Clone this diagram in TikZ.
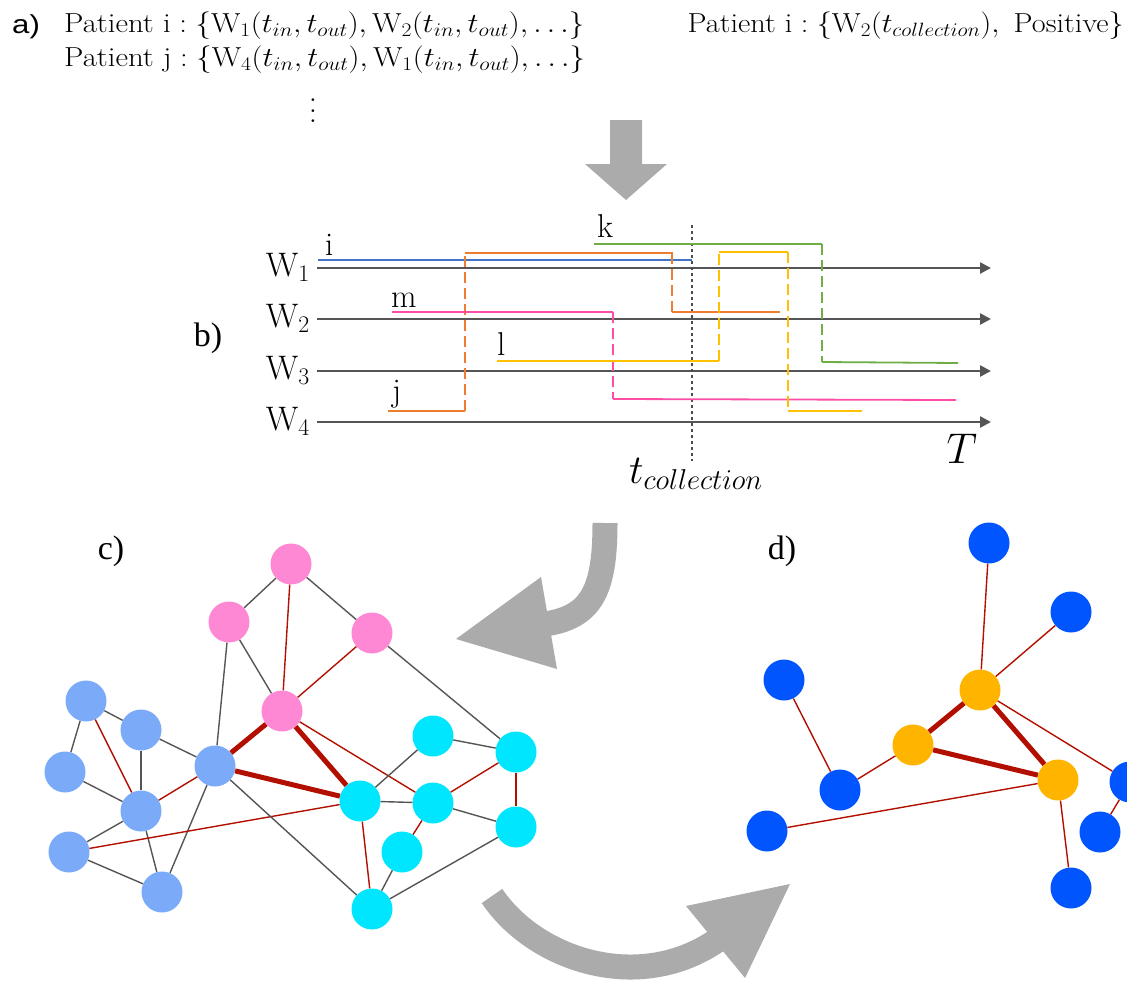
\RequirePackage{fix-cm}
\documentclass[tikz,border=0pt]{standalone}
\usepackage{graphicx}
\usepackage{fontspec}
\usetikzlibrary{arrows.meta}
\newfontfamily\labserif{Liberation Serif}
\newfontfamily\labsans{Liberation Sans}
\definecolor{pblue}{HTML}{4472C4}
\definecolor{porange}{HTML}{ED7D31}
\definecolor{ppink}{HTML}{FF4DA6}
\definecolor{pyellow}{HTML}{FFC000}
\definecolor{pgreen}{HTML}{70AD47}
\definecolor{axisgray}{HTML}{555555}
\definecolor{arrowgray}{HTML}{ABABAB}
\definecolor{npink}{HTML}{FF88D4}
\definecolor{nlblue}{HTML}{7BABF8}
\definecolor{ncyan}{HTML}{00E6FF}
\definecolor{nblue}{HTML}{0055FF}
\definecolor{norange}{HTML}{FFB400}
\definecolor{edgered}{HTML}{B30F00}
\definecolor{edgegray}{HTML}{555555}
\newcommand{\widetext}[1]{\scalebox{1.12}[1]{#1}}
\begin{document}
\begin{tikzpicture}[x=1pt,y=-1pt,
  toptext/.style={inner sep=0pt,font=\fontsize{27.5}{33}\selectfont},
  panel/.style={inner sep=0pt,font=\labserif\fontsize{34}{40}\selectfont},
  wlab/.style={inner sep=0pt,anchor=base east,font=\fontsize{34}{40}\selectfont},
  plab/.style={inner sep=0pt,anchor=base west,font=\fontsize{33}{38}\selectfont},
  axisline/.style={draw=axisgray,line width=2.5pt,-{Triangle[length=11pt,width=11pt]}},
  pline/.style={line width=1.8pt},
  pdash/.style={line width=1.8pt,dash pattern=on 11pt off 5pt},
  cnode/.style={circle,inner sep=0pt,minimum size=41pt,draw=none},
  gedge/.style={draw=edgegray,line width=1.4pt},
  redge/.style={draw=edgered,line width=1.4pt},
  tedge/.style={draw=edgered,line width=5pt},
  bigshaft/.style={draw=arrowgray,line width=25pt}
]
\useasboundingbox (0,0) rectangle (1127,985);
\clip (0,0) rectangle (1127,985);

% ---------- a) ----------
\node[inner sep=0pt,anchor=base west,font=\labsans\fontsize{26}{30}\selectfont] (la) at (12,33) {\scalebox{1.2}[1]{a)}};
\node[toptext,anchor=base west] (pati) at (64,32) {\widetext{Patient i${}:{}\{\mathrm{W}_1(t_{in},t_{out}),\mathrm{W}_2(t_{in},t_{out}),\ldots\}$}};
\node[toptext,anchor=base west] (patj) at (64,66) {\widetext{Patient j${}:{}\{\mathrm{W}_4(t_{in},t_{out}),\mathrm{W}_1(t_{in},t_{out}),\ldots\}$}};
\node[inner sep=0pt,anchor=center] (vd) at (313,103) {\scalebox{2.6}{\normalsize$\vdots$}};
\node[toptext,anchor=base east] (pos) at (1124,32) {\scalebox{1.1}[1]{Patient i${}:{}\{\mathrm{W}_2(t_{collection}),\ \mbox{Positive}\}$}};

% ---------- down arrow ----------
\fill[arrowgray] (610,120) -- (642,120) -- (642,164) -- (667,164) -- (626,200) -- (585,164) -- (610,164) -- cycle;

% ---------- b) ----------
\node[panel] (lb) at (208,338) {b)};
\coordinate (a1s) at (317,268); \coordinate (a1e) at (991,268);
\coordinate (a2s) at (317,319); \coordinate (a2e) at (991,319);
\coordinate (a3s) at (317,371); \coordinate (a3e) at (991,371);
\coordinate (a4s) at (317,422); \coordinate (a4e) at (991,422);
\draw[axisline] (a1s) -- (a1e);
\draw[axisline] (a2s) -- (a2e);
\draw[axisline] (a3s) -- (a3e);
\draw[axisline] (a4s) -- (a4e);
\node[wlab] (w1) at (310,276) {$\mathrm{W}_1$};
\node[wlab] (w2) at (310,327) {$\mathrm{W}_2$};
\node[wlab] (w3) at (310,379) {$\mathrm{W}_3$};
\node[wlab] (w4) at (310,430) {$\mathrm{W}_4$};

% collection time
\coordinate (tc1) at (692,225); \coordinate (tc2) at (692,461);
\draw[draw=axisgray!90!black,line width=1.6pt,dash pattern=on 3pt off 3pt] (tc1) -- (tc2);
\node[inner sep=0pt,font=\fontsize{41}{46}\selectfont] (tcol) at (696,474) {$t_{collection}$};
\node[inner sep=0pt,font=\fontsize{43}{48}\selectfont] (tT) at (962,449) {$T$};

% patient i
\draw[pline,pblue] (318,260) -- (692,260);
\node[plab] (li) at (325,255) {i};
% patient j
\draw[pline,porange] (388,411) -- (465,411);
\draw[pdash,porange] (465,411) -- (465,253);
\draw[pline,porange] (465,253) -- (673,253);
\draw[pdash,porange] (672,253) -- (672,312);
\draw[pline,porange] (672,312) -- (780,312);
\node[plab] (lj) at (392,401) {j};
% patient m
\draw[pline,ppink] (392,312) -- (613,312);
\draw[pdash,ppink] (613,312) -- (613,399);
\draw[pline,ppink] (613,399) -- (956,400);
\node[plab] (lm) at (391,307) {m};
% patient l
\draw[pline,pyellow] (497,361) -- (719,361);
\draw[pdash,pyellow] (719,361) -- (719,252);
\draw[pline,pyellow] (719,252) -- (788,252);
\draw[pdash,pyellow] (788,252) -- (788,411);
\draw[pline,pyellow] (788,411) -- (862,411);
\node[plab] (ll) at (497,355) {l};
% patient k
\draw[pline,pgreen] (594,244) -- (822,244);
\draw[pdash,pgreen] (822,244) -- (822,362);
\draw[pline,pgreen] (822,362) -- (958,363);
\node[plab] (lk) at (597,237) {k};

% ---------- curved arrows ----------
\draw[bigshaft] (605,523) .. controls (605,590) and (592,617) .. (545,624);
\fill[arrowgray] (456,639) -- (541,577) -- (557,669) -- cycle;
\draw[bigshaft] (492,896) .. controls (535,960) and (640,995) .. (719,939);
\fill[arrowgray] (790,884) -- (686,906) -- (745,978) -- cycle;

% ---------- c) ----------
\node[panel] (lc) at (111,551) {c)};
\node[cnode,fill=npink] (P1) at (291,564) {};
\node[cnode,fill=npink] (P2) at (229,622) {};
\node[cnode,fill=npink] (P3) at (372,633) {};
\node[cnode,fill=npink] (P4) at (282,711) {};
\node[cnode,fill=nlblue] (B1) at (86,701) {};
\node[cnode,fill=nlblue] (B2) at (141,730) {};
\node[cnode,fill=nlblue] (B3) at (65,772) {};
\node[cnode,fill=nlblue] (B4) at (215,766) {};
\node[cnode,fill=nlblue] (B5) at (141,811) {};
\node[cnode,fill=nlblue] (B6) at (69,852) {};
\node[cnode,fill=nlblue] (B7) at (162,892) {};
\node[cnode,fill=ncyan] (C1) at (433,736) {};
\node[cnode,fill=ncyan] (C2) at (516,752) {};
\node[cnode,fill=ncyan] (C3) at (360,801) {};
\node[cnode,fill=ncyan] (C4) at (433,803) {};
\node[cnode,fill=ncyan] (C5) at (516,827) {};
\node[cnode,fill=ncyan] (C6) at (402,852) {};
\node[cnode,fill=ncyan] (C7) at (372,909) {};

\draw[gedge] (P1) -- (P2);
\draw[gedge] (P1) -- (P3);
\draw[redge] (P1) -- (P4);
\draw[gedge] (P2) -- (P4);
\draw[gedge] (P2) -- (B4);
\draw[redge] (P3) -- (P4);
\draw[gedge] (P3) -- (C2);
\draw[tedge] (P4) -- (B4);
\draw[tedge] (P4) -- (C3);
\draw[redge] (P4) -- (C4);
\draw[tedge] (B4) -- (C3);
\draw[gedge] (B1) -- (B2);
\draw[gedge] (B1) -- (B3);
\draw[redge] (B1) -- (B5);
\draw[gedge] (B2) -- (B5);
\draw[gedge] (B2) -- (B4);
\draw[gedge] (B3) -- (B5);
\draw[redge] (B5) -- (B4);
\draw[gedge] (B5) -- (B6);
\draw[gedge] (B5) -- (B7);
\draw[gedge] (B6) -- (B7);
\draw[gedge] (B4) -- (B7);
\draw[redge] (B6) -- (C3);
\draw[gedge] (B4) -- (C7);
\draw[gedge] (C3) -- (C1);
\draw[gedge] (C3) -- (C4);
\draw[redge] (C3) -- (C7);
\draw[gedge] (C1) -- (C2);
\draw[redge] (C2) -- (C4);
\draw[redge] (C2) -- (C5);
\draw[gedge] (C4) -- (C5);
\draw[redge] (C4) -- (C6);
\draw[gedge] (C6) -- (C7);
\draw[gedge] (C7) -- (C5);

% ---------- d) ----------
\node[panel] (ld) at (782,551) {d)};
\node[cnode,fill=nblue] (D1) at (989,543) {};
\node[cnode,fill=nblue] (D2) at (1071,612) {};
\node[cnode,fill=nblue] (D3) at (784,680) {};
\node[cnode,fill=nblue] (D4) at (840,790) {};
\node[cnode,fill=nblue] (D5) at (767,831) {};
\node[cnode,fill=nblue] (D6) at (1130,782) {};
\node[cnode,fill=nblue] (D7) at (1100,832) {};
\node[cnode,fill=nblue] (D8) at (1071,888) {};
\node[cnode,fill=norange] (O1) at (980,690) {};
\node[cnode,fill=norange] (O2) at (913,745) {};
\node[cnode,fill=norange] (O3) at (1058,780) {};

\draw[redge] (D1) -- (O1);
\draw[redge] (D2) -- (O1);
\draw[redge] (D3) -- (D4);
\draw[redge] (D4) -- (O2);
\draw[tedge] (O1) -- (O2);
\draw[tedge] (O1) -- (O3);
\draw[tedge] (O2) -- (O3);
\draw[redge] (O1) -- (D6);
\draw[redge] (D5) -- (O3);
\draw[redge] (O3) -- (D8);
\draw[redge] (D6) -- (D7);
\end{tikzpicture}
\end{document}
